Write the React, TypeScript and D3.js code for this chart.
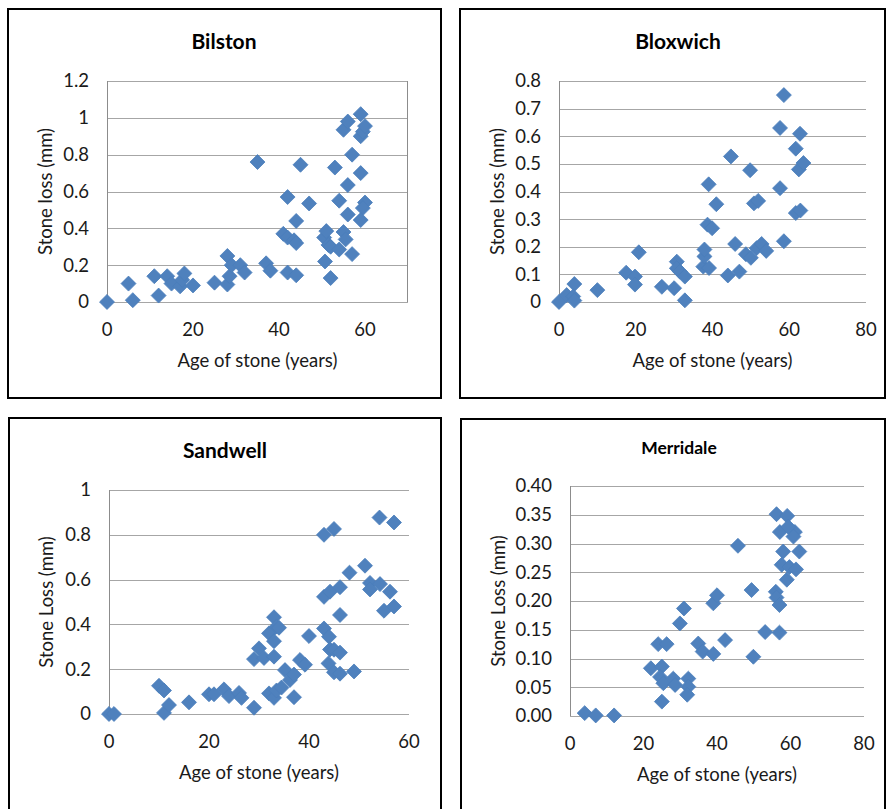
import React, { useEffect, useRef } from 'react';
import * as d3 from 'd3';

// Bilston
const bilstonAge = [0, 5, 6, 11, 12, 14, 15, 17, 17.5, 18, 20, 25, 28, 28, 28.5, 29, 31, 32, 35, 37, 38, 41, 42, 42, 42, 43.5, 44, 44, 44, 45, 47, 50.5, 51, 51.5, 50.7, 52, 52, 53, 54, 54, 55, 55.5, 55, 56, 56, 56, 57, 57, 59, 59, 59.5, 60, 59, 60, 59.5, 59];
const bilstonLoss = [0, 0.1, 0.01, 0.14, 0.035, 0.14, 0.1, 0.085, 0.12, 0.155, 0.09, 0.105, 0.25, 0.095, 0.14, 0.2, 0.2, 0.16, 0.76, 0.21, 0.17, 0.37, 0.57, 0.35, 0.16, 0.335, 0.32, 0.44, 0.145, 0.745, 0.535, 0.35, 0.385, 0.31, 0.22, 0.13, 0.3, 0.73, 0.55, 0.285, 0.38, 0.34, 0.935, 0.98, 0.635, 0.475, 0.26, 0.8, 1.02, 0.9, 0.925, 0.955, 0.7, 0.54, 0.51, 0.445];

// Bloxwich
const bloxwichAge = [0, 2, 4, 3.7, 4, 10, 17.5, 19.8, 19.8, 20.8, 26.8, 30, 30.7, 30.7, 31.5, 32.8, 32.8, 37.6, 37.9, 37.9, 39.1, 39, 38.7, 39.9, 41, 44, 44.8, 45.9, 47, 49.8, 48.7, 50, 50.8, 51.9, 51.5, 52.8, 54, 57.6, 57.6, 58.6, 58.6, 61.7, 62.8, 62.5, 63.7, 61.7, 62.9];
const bloxwichLoss = [0, 0.025, 0.065, 0.02, 0.005, 0.043, 0.106, 0.092, 0.063, 0.18, 0.055, 0.05, 0.146, 0.122, 0.11, 0.092, 0.006, 0.128, 0.165, 0.19, 0.123, 0.426, 0.28, 0.267, 0.354, 0.096, 0.527, 0.21, 0.11, 0.477, 0.173, 0.16, 0.357, 0.366, 0.195, 0.21, 0.185, 0.63, 0.412, 0.749, 0.22, 0.555, 0.609, 0.48, 0.503, 0.322, 0.331];

// Sandwell
const sandwellAge = [0, 1, 10, 11, 11, 12, 16, 20, 21, 23, 24, 26, 26.5, 29, 29, 30, 31, 32, 33, 33.5, 34, 33, 33, 32, 33, 33.5, 34.5, 35.2, 36.2, 37, 37, 38.2, 39.2, 40, 43, 45, 43, 44.2, 46.2, 48.1, 43, 44, 44.2, 45, 46.2, 46.2, 43.9, 45, 46.2, 49, 51.2, 52.2, 52.2, 54.2, 54.1, 57, 56.2, 55, 57];
const sandwellLoss = [0, 0, 0.126, 0.105, 0.005, 0.04, 0.052, 0.088, 0.088, 0.11, 0.08, 0.094, 0.072, 0.028, 0.245, 0.293, 0.25, 0.36, 0.432, 0.39, 0.385, 0.325, 0.256, 0.092, 0.072, 0.105, 0.118, 0.196, 0.152, 0.176, 0.075, 0.241, 0.22, 0.348, 0.8, 0.826, 0.523, 0.546, 0.566, 0.631, 0.382, 0.345, 0.288, 0.287, 0.274, 0.442, 0.226, 0.186, 0.18, 0.19, 0.662, 0.585, 0.556, 0.58, 0.877, 0.855, 0.546, 0.461, 0.48];

// Merridale
const merridaleAge = [4, 7, 12, 22, 24, 26.3, 25, 24.5, 25.4, 25, 28.1, 28.6, 29.9, 31, 32.2, 32.2, 31.9, 34.9, 36.1, 39, 39, 40, 42.2, 45.7, 49.4, 49.9, 53.1, 56.2, 57, 56, 56.2, 57, 57.1, 61.2, 59.1, 59.4, 60.8, 58, 62.4, 57.6, 59.7, 61.5, 59];
const merridaleLoss = [0.005, 0.001, 0.001, 0.083, 0.125, 0.125, 0.086, 0.068, 0.057, 0.025, 0.065, 0.054, 0.161, 0.187, 0.065, 0.051, 0.037, 0.126, 0.112, 0.108, 0.196, 0.21, 0.132, 0.296, 0.219, 0.103, 0.146, 0.351, 0.145, 0.216, 0.206, 0.193, 0.32, 0.32, 0.348, 0.329, 0.312, 0.286, 0.286, 0.263, 0.259, 0.255, 0.237];

const xTicks60 = [0, 20, 40, 60];
const xTicks80 = [0, 20, 40, 60, 80];
const bilstonYTicks = [0, 0.2, 0.4, 0.6, 0.8, 1, 1.2];
const bloxwichYTicks = [0, 0.1, 0.2, 0.3, 0.4, 0.5, 0.6, 0.7, 0.8];
const sandwellYTicks = [0, 0.2, 0.4, 0.6, 0.8, 1];
const merridaleYTicks = [0, 0.05, 0.1, 0.15, 0.2, 0.25, 0.3, 0.35, 0.4];

const panels = [
  { title: 'Bilston', age: bilstonAge, loss: bilstonLoss, xMax: 70, xTicks: xTicks60, yTicks: bilstonYTicks, fmt: (d: number) => String(d), yLabel: 'Stone loss (mm)', box: [8, 9, 441, 398], plot: [107, 81, 408, 302], titleX: 224, titleY: 42, titleSize: 21, frame: true },
  { title: 'Bloxwich', age: bloxwichAge, loss: bloxwichLoss, xMax: 80, xTicks: xTicks80, yTicks: bloxwichYTicks, fmt: (d: number) => String(d), yLabel: 'Stone loss (mm)', box: [460, 9, 885, 398], plot: [559, 81, 866, 302], titleX: 678, titleY: 42, titleSize: 21, frame: false },
  { title: 'Sandwell', age: sandwellAge, loss: sandwellLoss, xMax: 60, xTicks: xTicks60, yTicks: sandwellYTicks, fmt: (d: number) => String(d), yLabel: 'Stone Loss (mm)', box: [9, 418, 441, 815], plot: [109, 490, 409, 714], titleX: 225, titleY: 451, titleSize: 21, frame: false },
  { title: 'Merridale', age: merridaleAge, loss: merridaleLoss, xMax: 80, xTicks: xTicks80, yTicks: merridaleYTicks, fmt: d3.format('.2f'), yLabel: 'Stone Loss (mm)', box: [461, 419, 885, 815], plot: [570, 486, 864, 716], titleX: 679, titleY: 448, titleSize: 17.5, frame: false },
];

const font = 'Lato, "Open Sans", sans-serif';
const ink = '#1a1a1a';

const App = () => {
  const ref = useRef<SVGSVGElement>(null);

  useEffect(() => {
    const svg = d3.select(ref.current);
    svg.selectAll('*').remove();
    svg.append('rect').attr('width', 886).attr('height', 809).attr('fill', 'white');

    panels.forEach(p => {
      const [bx0, by0, bx1, by1] = p.box;
      const [px0, py0, px1, py1] = p.plot;
      const g = svg.append('g');

      g.append('rect')
        .attr('x', bx0).attr('y', by0)
        .attr('width', bx1 - bx0).attr('height', by1 - by0)
        .attr('fill', 'white').attr('stroke', 'black').attr('stroke-width', 2);

      const x = d3.scaleLinear().domain([0, p.xMax]).range([px0, px1]);
      const yMax = p.yTicks[p.yTicks.length - 1];
      const y = d3.scaleLinear().domain([0, yMax]).range([py1, py0]);

      // gridlines
      g.append('g').selectAll('line').data(p.yTicks).join('line')
        .attr('x1', px0).attr('x2', px1)
        .attr('y1', d => Math.round(y(d)) + 0.5).attr('y2', d => Math.round(y(d)) + 0.5)
        .attr('stroke', '#a6a6a6').attr('stroke-width', 1);

      // y axis line
      g.append('line')
        .attr('x1', px0 + 0.5).attr('x2', px0 + 0.5).attr('y1', py0).attr('y2', py1)
        .attr('stroke', '#8c8c8c');
      if (p.frame) {
        g.append('line')
          .attr('x1', px1 - 0.5).attr('x2', px1 - 0.5).attr('y1', py0).attr('y2', py1)
          .attr('stroke', '#8c8c8c');
      }

      // tick labels
      g.append('g').selectAll('text').data(p.yTicks).join('text')
        .attr('x', px0 - 18).attr('y', d => y(d))
        .attr('dy', '0.35em').attr('text-anchor', 'end')
        .attr('font-family', font).attr('font-size', 18.5).attr('fill', ink)
        .text(d => p.fmt(d));
      g.append('g').selectAll('text').data(p.xTicks).join('text')
        .attr('x', d => x(d)).attr('y', py1 + 28)
        .attr('dy', '0.35em').attr('text-anchor', 'middle')
        .attr('font-family', font).attr('font-size', 18.5).attr('fill', ink)
        .text(d => String(d));

      // titles
      g.append('text')
        .attr('x', p.titleX).attr('y', p.titleY).attr('dy', '0.35em')
        .attr('text-anchor', 'middle').attr('font-family', font)
        .attr('font-weight', 'bold').attr('font-size', p.titleSize)
        .text(p.title);
      g.append('text')
        .attr('x', (px0 + px1) / 2).attr('y', py1 + 59).attr('dy', '0.35em')
        .attr('text-anchor', 'middle').attr('font-family', font).attr('font-size', 18.5)
        .attr('fill', ink)
        .text('Age of stone (years)');
      g.append('text')
        .attr('transform', `translate(${bx0 + 38},${(py0 + py1) / 2}) rotate(-90)`)
        .attr('dy', '0.35em')
        .attr('text-anchor', 'middle').attr('font-family', font).attr('font-size', 18.5)
        .attr('fill', ink)
        .text(p.yLabel);

      // markers
      const diamond = d3.symbol().type(d3.symbolSquare).size(112);
      g.append('g').selectAll('path').data(p.age.map((a, i) => [a, p.loss[i]])).join('path')
        .attr('d', diamond)
        .attr('transform', d => `translate(${x(d[0])},${y(d[1])}) rotate(45)`)
        .attr('fill', '#4f81bd').attr('stroke', '#4a7ebb').attr('stroke-width', 0.75);
    });
  }, []);

  return (
    <svg ref={ref} width={886} height={809} style={{ position: 'absolute', left: 0, top: 0 }} />
  );
};

export default App;
